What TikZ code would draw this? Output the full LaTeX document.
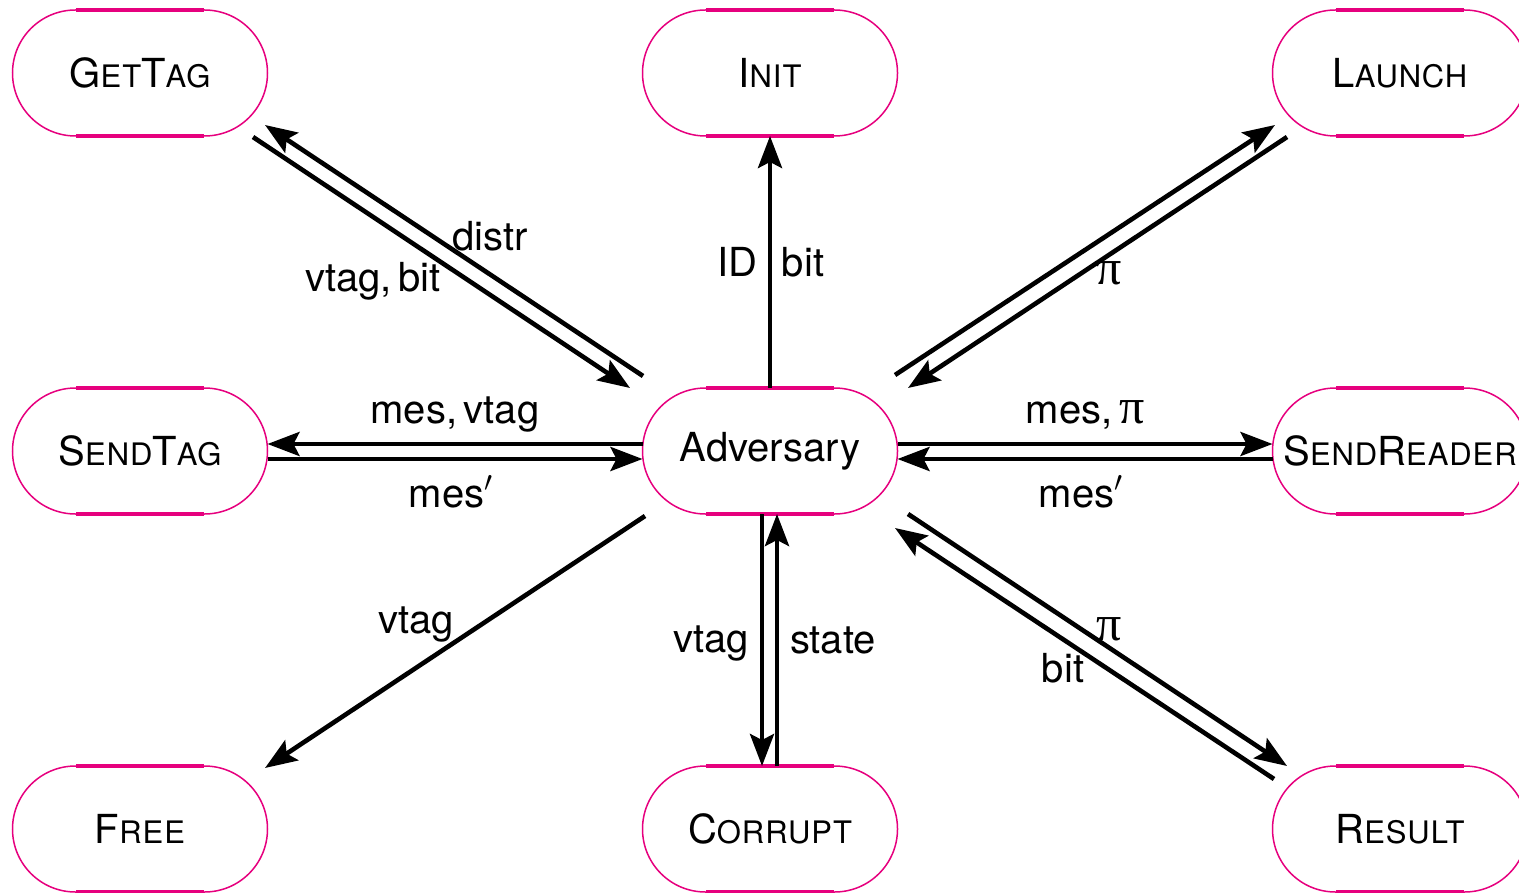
\documentclass[tikz,border=0pt]{standalone}
\usepackage{fontspec}
\setmainfont{TeX Gyre Heros}
\newfontfamily\nodefont[LetterSpace=3]{TeX Gyre Heros}
\newfontfamily\grkfont{Liberation Serif}
\usetikzlibrary{shapes.misc,arrows.meta,calc}
\definecolor{mag}{RGB}{230,0,126}
\newcommand\smc[1]{{\fontsize{15.5}{16}\selectfont #1}}
\newcommand\upi{{\grkfont\fontsize{25}{25}\selectfont π}}
\begin{document}
\begin{tikzpicture}[x=0.5pt,y=-0.5pt,
  stnode/.style={rounded rectangle, draw=mag, line width=0.75pt, minimum width=127.5pt,
    minimum height=63pt, inner sep=0pt, outer sep=0pt, font=\nodefont\fontsize{20}{24}\selectfont},
  flat/.style={draw=mag, line width=2pt},
  conn/.style={line width=2.3pt, -{Stealth[length=16pt,width=12pt,inset=3pt]}},
  lab/.style={font=\fontsize{20}{24}\selectfont, inner sep=0pt, anchor=base},
]
\useasboundingbox (0,0) rectangle (1519,893);

\node[stnode] (gettag) at (140,73) {\makebox[0pt]{G\smc{ET}T\smc{AG}}};
\node[stnode] (init) at (770,73) {\makebox[0pt]{I\smc{NIT}}};
\node[stnode] (launch) at (1400,73) {\makebox[0pt]{L\smc{AUNCH}}};
\node[stnode] (sendtag) at (140,451) {\makebox[0pt]{S\smc{END}T\smc{AG}}};
\node[stnode] (adv) at (770,451) {\makebox[0pt]{\rmfamily Adversary}};
\node[stnode] (sendreader) at (1400,451) {\makebox[0pt]{S\smc{END}R\smc{EADER}}};
\node[stnode] (free) at (140,829) {\makebox[0pt]{F\smc{REE}}};
\node[stnode] (corrupt) at (770,829) {\makebox[0pt]{C\smc{ORRUPT}}};
\node[stnode] (result) at (1400,829) {\makebox[0pt]{R\smc{ESULT}}};

\foreach \n in {gettag,init,launch,sendtag,adv,sendreader,free,corrupt,result}{
  \draw[flat] ($(\n.north)+(-64,0)$) -- ($(\n.north)+(64,0)$);
  \draw[flat] ($(\n.south)+(-64,0)$) -- ($(\n.south)+(64,0)$);
}

% GetTag
\draw[conn] ($(adv)+(-127,-75)$) -- ($(gettag)+(125,52)$);
\draw[conn] ($(gettag)+(113,64)$) -- ($(adv)+(-140,-63)$);
% Init
\draw[conn] (adv.north) -- (init.south);
% Launch
\draw[conn] ($(adv)+(125,-76)$) -- ($(launch)+(-125,52)$);
\draw[conn] ($(launch)+(-113,64)$) -- ($(adv)+(138,-63)$);
% SendTag
\draw[conn] ($(adv.west)+(0,-7)$) -- ($(sendtag.east)+(0,-7)$);
\draw[conn] ($(sendtag.east)+(0,8)$) -- ($(adv.west)+(0,8)$);
% SendReader
\draw[conn] ($(adv.east)+(0,-7)$) -- ($(sendreader.west)+(0,-7)$);
\draw[conn] ($(sendreader.west)+(0,8)$) -- ($(adv.east)+(0,8)$);
% Free
\draw[conn] ($(adv)+(-125,65)$) -- ($(free)+(125,-61)$);
% Corrupt
\draw[conn] ($(adv.south)+(-8,0)$) -- ($(corrupt.north)+(-8,0)$);
\draw[conn] ($(corrupt.north)+(7,0)$) -- ($(adv.south)+(7,0)$);
% Result
\draw[conn] ($(adv)+(138,63)$) -- ($(result)+(-113,-63)$);
\draw[conn] ($(result)+(-126,-50)$) -- ($(adv)+(125,77)$);

% labels
\node[lab] (l1) at (490,250) {distr};
\node[lab] (l2) at (373,292) {vtag,\,bit};
\node[lab] (l3) at (737,277) {ID};
\node[lab] (l4) at (803,277) {bit};
\node[lab] (l5) at (1109,285) {\upi};
\node[lab] (l6) at (455,423) {mes,\,vtag};
\node[lab] (l7) at (451,507) {mes$'$};
\node[lab] (l8) at (1085,423) {mes,\,\upi};
\node[lab] (l9) at (1081,507) {mes$'$};
\node[lab] (l10) at (416,633) {vtag};
\node[lab] (l11) at (711,652) {vtag};
\node[lab] (l12) at (833,653) {state};
\node[lab] (l13) at (1109,640) {\upi};
\node[lab] (l14) at (1063,682) {bit};
\end{tikzpicture}
\end{document}
